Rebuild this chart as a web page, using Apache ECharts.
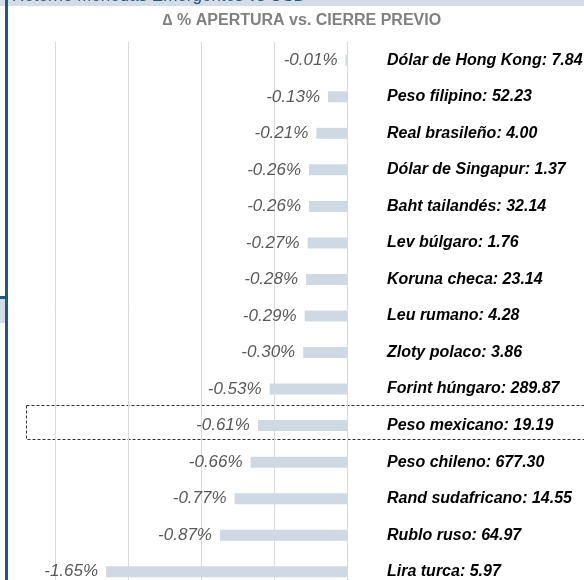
<!DOCTYPE html>
<html>
<head>
<meta charset="utf-8">
<script src="https://cdn.jsdelivr.net/npm/echarts@6/dist/echarts.min.js"></script>
<style>
  html, body { margin: 0; padding: 0; background: #fff; }
  #chart { width: 584px; height: 580px; }
</style>
</head>
<body>
<div id="chart"></div>
<script>
const currencies = [
  'Dólar de Hong Kong', 'Peso filipino', 'Real brasileño', 'Dólar de Singapur',
  'Baht tailandés', 'Lev búlgaro', 'Koruna checa', 'Leu rumano', 'Zloty polaco',
  'Forint húngaro', 'Peso mexicano', 'Peso chileno', 'Rand sudafricano',
  'Rublo ruso', 'Lira turca'
]
const rates = ['7.84', '52.23', '4.00', '1.37', '32.14', '1.76', '23.14', '4.28',
  '3.86', '289.87', '19.19', '677.30', '14.55', '64.97', '5.97']
const changes = [-0.01, -0.13, -0.21, -0.26, -0.26, -0.27, -0.28, -0.29, -0.30,
  -0.53, -0.61, -0.66, -0.77, -0.87, -1.65]

const font = 'Liberation Sans'
const chart = echarts.init(document.getElementById('chart'))

chart.setOption({
  animation: false,
  grid: { left: 55, top: 42, width: 292, height: 548, outerBoundsMode: 'none', containLabel: false },
  xAxis: {
    type: 'value',
    min: -2,
    max: 0,
    interval: 0.5,
    axisLine: { show: false },
    axisTick: { show: false },
    axisLabel: { show: false },
    splitLine: { lineStyle: { color: '#d9d9d9', width: 1 } }
  },
  yAxis: {
    type: 'category',
    inverse: true,
    position: 'right',
    data: currencies.map((c, i) => c + ': ' + rates[i]),
    axisLine: { show: false },
    axisTick: { show: false },
    axisLabel: {
      margin: 40,
      color: '#000',
      fontFamily: font,
      fontSize: 16,
      fontWeight: 'bold',
      fontStyle: 'italic'
    }
  },
  series: [{
    type: 'bar',
    data: changes,
    barWidth: 11,
    itemStyle: { color: '#cfd9e4' },
    label: {
      show: true,
      position: 'left',
      distance: 8,
      color: '#595959',
      fontFamily: font,
      fontSize: 17,
      fontStyle: 'italic',
      formatter: p => p.value.toFixed(2) + '%'
    }
  }],
  graphic: [
    { type: 'rect', shape: { x: 0, y: 0, width: 584, height: 6 }, style: { fill: '#d3dce7' } },
    {
      type: 'text', x: 12, y: 5,
      style: {
        text: 'Retorno Monedas Emergentes vs USD', fill: '#1f5f7d',
        font: '17px "Liberation Sans"', textVerticalAlign: 'bottom'
      }
    },
    { type: 'rect', shape: { x: 5, y: 0, width: 3, height: 580 }, style: { fill: '#1c5c78' } },
    { type: 'rect', shape: { x: 0, y: 296, width: 5, height: 3 }, style: { fill: '#1c5c78' } },
    { type: 'rect', shape: { x: 0, y: 299, width: 5, height: 24 }, style: { fill: '#d3dce7' } },
    {
      type: 'text', x: 302, y: 21,
      style: {
        text: '∆ % APERTURA vs. CIERRE PREVIO', fill: '#808080',
        font: 'bold 16px "Liberation Sans"', textAlign: 'center', textVerticalAlign: 'middle'
      }
    },
    {
      type: 'rect', shape: { x: 26.5, y: 405.5, width: 600, height: 34 },
      style: { fill: 'none', stroke: '#333', lineWidth: 1, lineDash: [3, 2] }
    }
  ]
})
</script>
</body>
</html>
